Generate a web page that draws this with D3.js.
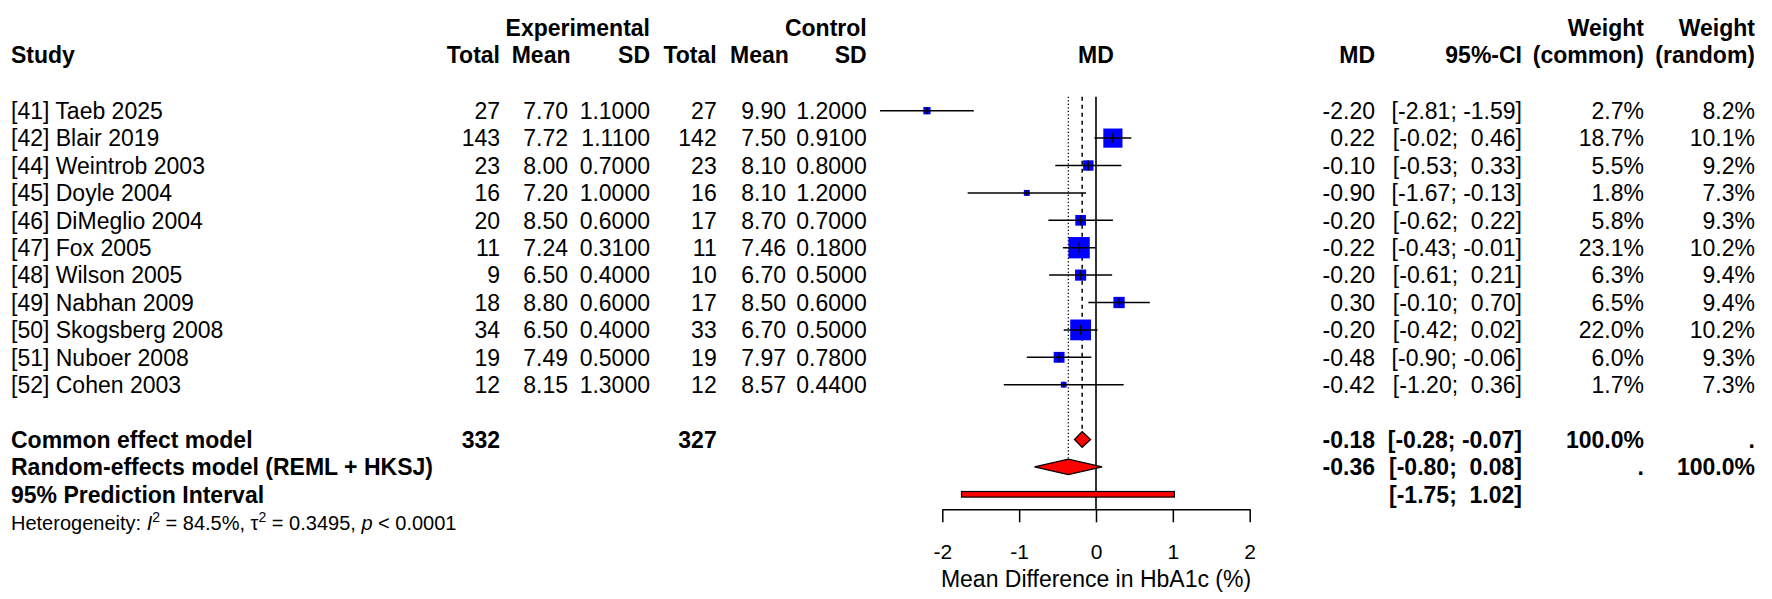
<!DOCTYPE html>
<html>
<head>
<meta charset="utf-8">
<script src="https://cdn.jsdelivr.net/npm/d3@7"></script>
<style>
  body { margin: 0; background: #fff; }
  svg text { font-family: "Liberation Sans", Arial, sans-serif; fill: #000; white-space: pre; }
</style>
</head>
<body>
<div id="chart"></div>
<script>
// Study data
const studies = ["[41] Taeb 2025", "[42] Blair 2019", "[44] Weintrob 2003", "[45] Doyle 2004",
  "[46] DiMeglio 2004", "[47] Fox 2005", "[48] Wilson 2005", "[49] Nabhan 2009",
  "[50] Skogsberg 2008", "[51] Nuboer 2008", "[52] Cohen 2003"];
const expTotal = [27, 143, 23, 16, 20, 11, 9, 18, 34, 19, 12];
const expMean = [7.70, 7.72, 8.00, 7.20, 8.50, 7.24, 6.50, 8.80, 6.50, 7.49, 8.15];
const expSD = [1.1, 1.11, 0.7, 1.0, 0.6, 0.31, 0.4, 0.6, 0.4, 0.5, 1.3];
const ctrlTotal = [27, 142, 23, 16, 17, 11, 10, 17, 33, 19, 12];
const ctrlMean = [9.90, 7.50, 8.10, 8.10, 8.70, 7.46, 6.70, 8.50, 6.70, 7.97, 8.57];
const ctrlSD = [1.2, 0.91, 0.8, 1.2, 0.7, 0.18, 0.5, 0.6, 0.5, 0.78, 0.44];
const md = [-2.20, 0.22, -0.10, -0.90, -0.20, -0.22, -0.20, 0.30, -0.20, -0.48, -0.42];
const ciLower = [-2.81, -0.02, -0.53, -1.67, -0.62, -0.43, -0.61, -0.10, -0.42, -0.90, -1.20];
const ciUpper = [-1.59, 0.46, 0.33, -0.13, 0.22, -0.01, 0.21, 0.70, 0.02, -0.06, 0.36];
const weightCommon = [2.7, 18.7, 5.5, 1.8, 5.8, 23.1, 6.3, 6.5, 22.0, 6.0, 1.7];
const weightRandom = [8.2, 10.1, 9.2, 7.3, 9.3, 10.2, 9.4, 9.4, 10.2, 9.3, 7.3];

// Pooled results
const summaryLabels = ["Common effect model", "Random-effects model (REML + HKSJ)", "95% Prediction Interval"];
const summaryExpTotal = [332, null, null];
const summaryCtrlTotal = [327, null, null];
const summaryMD = [-0.18, -0.36, null];
const summaryLower = [-0.28, -0.80, -1.75];
const summaryUpper = [-0.07, 0.08, 1.02];
const summaryWeightCommon = ["100.0%", ".", ""];
const summaryWeightRandom = [".", "100.0%", ""];

const xTicks = [-2, -1, 0, 1, 2];
const xLabel = "Mean Difference in HbA1c (%)";

const W = 1772, H = 599;
const loc = d3.formatLocale({decimal: ".", thousands: ",", grouping: [3], currency: ["", ""], minus: "-"});
const f2 = loc.format(".2f"), f4 = loc.format(".4f"), f1 = loc.format(".1f");
const pad = v => (v >= 0 ? " " : "") + f2(v);
const ciText = (l, u) => `[${pad(l)}; ${pad(u)}]`;

const svg = d3.select("#chart").append("svg")
  .attr("width", W).attr("height", H);

const x = d3.scaleLinear().domain([-2, 2]).range([942.3, 1249.7]);
const y = d3.scaleLinear().domain([0, 1]).range([110.7, 138.1]);
const side = d3.scaleSqrt().domain([0, d3.max(weightCommon)]).range([0, 21.3]);

const FS = 23, dy = 8.2;

// column right edges
const col = {study: 11, eTot: 500, eMean: 568, eSD: 650, cTot: 716.7, cMean: 786, cSD: 866.7,
  md: 1375, ci: 1522, wc: 1644, wr: 1755};

function txt(xp, yp, s, anchor, bold, size) {
  return svg.append("text")
    .attr("x", xp).attr("y", yp)
    .attr("text-anchor", anchor || "end")
    .style("font-size", (size || FS) + "px")
    .style("font-weight", bold ? "bold" : "normal")
    .text(s);
}

// headers
const h1 = 36, h2 = 63.3;
txt(col.eSD, h1, "Experimental", "end", true);
txt(col.cSD, h1, "Control", "end", true);
txt(col.wc, h1, "Weight", "end", true);
txt(col.wr, h1, "Weight", "end", true);
txt(col.study, h2, "Study", "start", true);
txt(col.eTot, h2, "Total", "end", true);
txt(511.7, h2, "Mean", "start", true);
txt(col.eSD, h2, "SD", "end", true);
txt(col.cTot, h2, "Total", "end", true);
txt(730, h2, "Mean", "start", true);
txt(col.cSD, h2, "SD", "end", true);
txt(x(0), h2, "MD", "middle", true);
txt(col.md, h2, "MD", "end", true);
txt(col.ci, h2, "95%-CI", "end", true);
txt(col.wc, h2, "(common)", "end", true);
txt(col.wr, h2, "(random)", "end", true);

// study rows text
studies.forEach((s, i) => {
  const b = y(i) + dy;
  txt(col.study, b, s, "start");
  txt(col.eTot, b, expTotal[i]);
  txt(col.eMean, b, f2(expMean[i]));
  txt(col.eSD, b, f4(expSD[i]));
  txt(col.cTot, b, ctrlTotal[i]);
  txt(col.cMean, b, f2(ctrlMean[i]));
  txt(col.cSD, b, f4(ctrlSD[i]));
  txt(col.md, b, f2(md[i]));
  txt(col.ci, b, ciText(ciLower[i], ciUpper[i]));
  txt(col.wc, b, f1(weightCommon[i]) + "%");
  txt(col.wr, b, f1(weightRandom[i]) + "%");
});

// summary rows text
const sumRow = [12, 13, 14];
summaryLabels.forEach((s, k) => {
  const b = y(sumRow[k]) + dy;
  txt(col.study, b, s, "start", true);
  if (summaryExpTotal[k] != null) txt(col.eTot, b, summaryExpTotal[k], "end", true);
  if (summaryCtrlTotal[k] != null) txt(col.cTot, b, summaryCtrlTotal[k], "end", true);
  if (summaryMD[k] != null) txt(col.md, b, f2(summaryMD[k]), "end", true);
  txt(col.ci, b, ciText(summaryLower[k], summaryUpper[k]), "end", true);
  if (summaryWeightCommon[k]) txt(col.wc, b, summaryWeightCommon[k], "end", true);
  if (summaryWeightRandom[k]) txt(col.wr, b, summaryWeightRandom[k], "end", true);
});

// heterogeneity line
const het = svg.append("text").attr("x", col.study).attr("y", y(15) + 8.5)
  .style("font-size", "20px");
het.append("tspan").text("Heterogeneity: ");
het.append("tspan").style("font-style", "italic").text("I");
het.append("tspan").attr("dy", -8).style("font-size", "14px").text("2");
het.append("tspan").attr("dy", 8).text(" = 84.5%, τ");
het.append("tspan").attr("dy", -8).style("font-size", "14px").text("2");
het.append("tspan").attr("dy", 8).text(" = 0.3495, ");
het.append("tspan").style("font-style", "italic").text("p");
het.append("tspan").text(" < 0.0001");

// reference lines
const lineTop = y(0) - 14;
const axisY = 509.3;
const half = 7.8;
svg.append("line")
  .attr("x1", x(0)).attr("x2", x(0)).attr("y1", lineTop).attr("y2", axisY)
  .attr("stroke", "#000").attr("stroke-width", 1.6);
svg.append("line")
  .attr("x1", x(summaryMD[0])).attr("x2", x(summaryMD[0]))
  .attr("y1", lineTop).attr("y2", y(12) - half)
  .attr("stroke", "#000").attr("stroke-width", 1.5).attr("stroke-dasharray", "4,4");
svg.append("line")
  .attr("x1", x(summaryMD[1])).attr("x2", x(summaryMD[1]))
  .attr("y1", lineTop).attr("y2", y(13) - half)
  .attr("stroke", "#000").attr("stroke-width", 1.3).attr("stroke-dasharray", "1.3,2.2");

// study squares and confidence intervals
const g = svg.append("g");
studies.forEach((s, i) => {
  const cy = y(i), cx = x(md[i]), sz = side(weightCommon[i]);
  g.append("rect")
    .attr("x", cx - sz / 2).attr("y", cy - sz / 2)
    .attr("width", sz).attr("height", sz)
    .attr("fill", "#0000ff");
  g.append("line")
    .attr("x1", x(ciLower[i])).attr("x2", x(ciUpper[i]))
    .attr("y1", cy).attr("y2", cy)
    .attr("stroke", "#000").attr("stroke-width", 1.5);
  const t = Math.min(sz / 2, 5);
  g.append("line")
    .attr("x1", cx).attr("x2", cx).attr("y1", cy - t).attr("y2", cy + t)
    .attr("stroke", "#000").attr("stroke-width", 1.3);
});

// diamonds
[0, 1].forEach(k => {
  const cy = y(sumRow[k]);
  const pts = [[x(summaryLower[k]), cy], [x(summaryMD[k]), cy - half],
    [x(summaryUpper[k]), cy], [x(summaryMD[k]), cy + half]];
  g.append("path")
    .attr("d", d3.line()(pts) + "Z")
    .attr("fill", "#ff0000").attr("stroke", "#000").attr("stroke-width", 1.2);
});

// prediction interval bar
g.append("rect")
  .attr("x", x(summaryLower[2])).attr("y", y(14) - 2.8)
  .attr("width", x(summaryUpper[2]) - x(summaryLower[2])).attr("height", 5.6)
  .attr("fill", "#ff0000").attr("stroke", "#000").attr("stroke-width", 1.2);

// axis
const axis = svg.append("g")
  .attr("transform", `translate(0,${axisY})`)
  .call(d3.axisBottom(x).tickValues(xTicks).tickSize(13).tickSizeOuter(0)
    .tickFormat(d => loc.format("d")(d)).tickPadding(30));
axis.select(".domain").attr("stroke-width", 1.5);
axis.selectAll(".tick line").attr("stroke-width", 1.5);
axis.selectAll(".tick text")
  .attr("dy", null).attr("y", 559 - axisY)
  .style("font-size", "21px")
  .style("font-family", '"Liberation Sans", Arial, sans-serif');

txt(x(0), 586.7, xLabel, "middle", false);
</script>
</body>
</html>
